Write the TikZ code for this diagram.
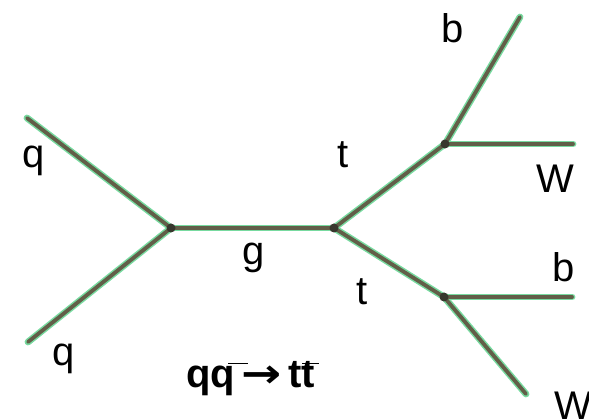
\documentclass[tikz,border=0pt]{standalone}
\usepackage{fontspec}
\setmainfont{Liberation Sans}
\newfontfamily\dvfont{DejaVu Sans}
\begin{document}
\begin{tikzpicture}[x=1pt,y=-1pt,
  halo/.style={line width=6.8pt,draw={rgb,255:red,120;green,218;blue,160},line cap=round},
  core/.style={line width=3.8pt,draw={rgb,255:red,98;green,94;blue,72},line cap=round},
  blob/.style={fill={rgb,255:red,55;green,55;blue,45},draw=none},
  lbl/.style={anchor=base,inner sep=0pt,font=\fontsize{40}{48}\selectfont},
  title/.style={anchor=base west,inner sep=0pt,font=\fontsize{40}{48}\selectfont\bfseries}]
\useasboundingbox (0,0) rectangle (589,419);
% vertices and ends
\coordinate (v1) at (171,228);
\coordinate (v2) at (334,228);
\coordinate (vu) at (445,144);
\coordinate (vl) at (444,297);
\coordinate (qa) at (27,118);
\coordinate (qb) at (28,342);
\coordinate (bu) at (520,17);
\coordinate (wu) at (573,144);
\coordinate (bl) at (572,297);
\coordinate (wl) at (526,394);
% halos
\foreach \a/\b in {qa/v1,qb/v1,v1/v2,v2/vu,v2/vl,vu/bu,vu/wu,vl/bl,vl/wl}
  \draw[halo] (\a) -- (\b);
\foreach \a/\b in {qa/v1,qb/v1,v1/v2,v2/vu,v2/vl,vu/bu,vu/wu,vl/bl,vl/wl}
  \draw[core] (\a) -- (\b);
\foreach \v in {v1,v2,vu,vl}
  \fill[blob] (\v) circle (4.5pt);
% labels
\node[lbl] (lq1) at (34,168) {q};
\node[lbl] (lq2) at (64,366) {q};
\node[lbl] (lg) at (254,265) {g};
\node[lbl] (lt1) at (343,168) {t};
\node[lbl] (lt2) at (362,305) {t};
\node[lbl] (lb1) at (453,43) {b};
\node[lbl] (lw1) at (555,193) {W};
\node[lbl] (lb2) at (564,282) {b};
\node[lbl] (lw2) at (573,420) {W};
\node[title] (eq) at (186,388) {qq\,{\dvfont\bfseries\scalebox{1.2}[1]{→}}\,tt};
\draw[line width=1pt] (228,364) -- (248,364);
\draw[line width=1pt] (302,364) -- (319,364);
\end{tikzpicture}
\end{document}
